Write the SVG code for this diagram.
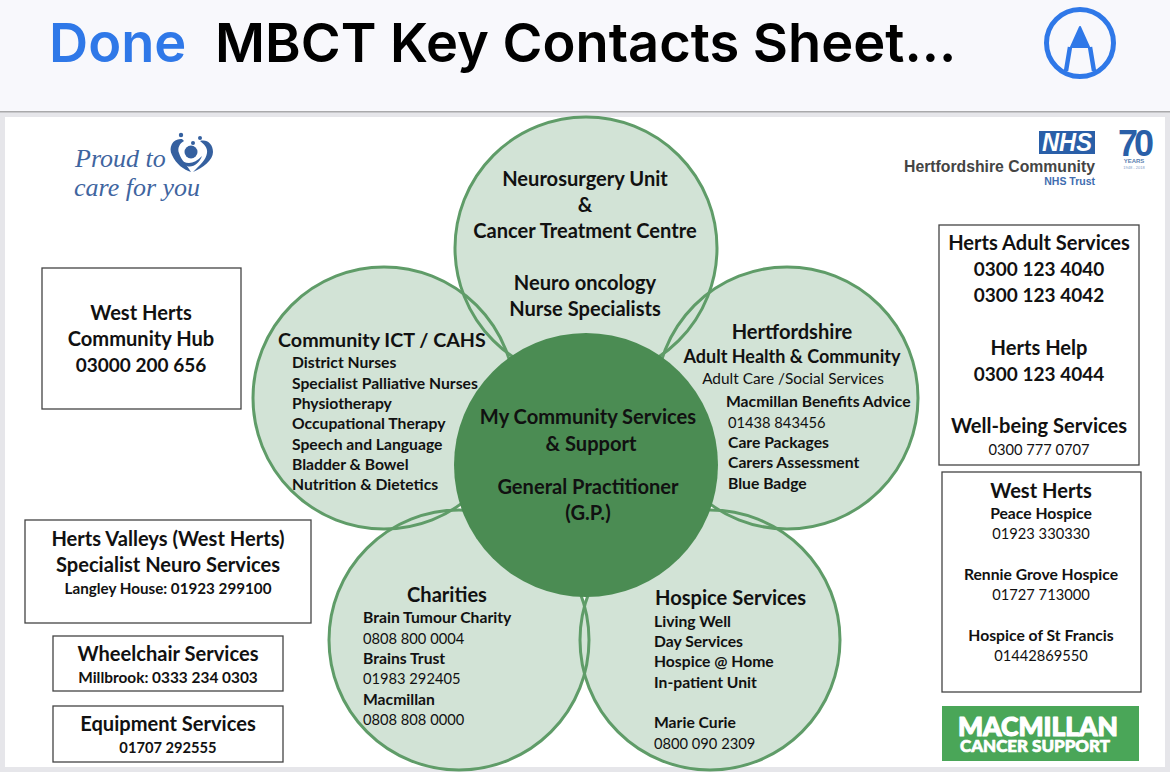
<svg xmlns="http://www.w3.org/2000/svg" width="1170" height="772" viewBox="0 0 1170 772">
<style>
text{font-family:"Lato","Open Sans","Liberation Sans",sans-serif;fill:#111}
.c{text-anchor:middle}
.h{font-size:20.1px;font-weight:700}
.hn{font-size:19px;font-weight:700}
.b{font-size:15.7px;font-weight:700}
.bn{font-size:14.7px;font-weight:700}
.n{font-size:14.7px;font-weight:400}
.box{fill:#fff;stroke:#444;stroke-width:1.3}
.pet{fill:#d2e3d6}
.ring{fill:none;stroke:#5f9c68;stroke-width:3}
.ui{font-family:"Inter","Liberation Sans",sans-serif;font-size:54.2px;font-weight:600}
.logo{font-family:"Liberation Serif",serif;font-style:italic;font-size:26px;fill:#3f659f}
.sans{font-family:"Liberation Sans",sans-serif;font-weight:700}
.heart{fill:#35609f}
</style>
<rect width="1170" height="772" fill="#e6e6ea"/>
<rect width="1170" height="111" fill="#f8f8fc"/>
<rect y="111" width="1170" height="1.5" fill="#a9a9ab"/>
<rect x="5" y="117" width="1160" height="650" fill="#fff"/>
<g id="toolbar">
<text class="ui" x="49" y="62" style="fill:#2f78e8">Done</text>
<text class="ui" x="215" y="62" style="fill:#000">MBCT Key Contacts Sheet...</text>
<circle cx="1080" cy="43" r="33.5" fill="none" stroke="#2f78e8" stroke-width="5"/>
<path d="M1080 27L1089 47L1071 47Z" fill="#2f78e8" stroke="#2f78e8" stroke-width="2" stroke-linejoin="round"/>
<path d="M1070 47L1066 71M1090 47L1094 71" fill="none" stroke="#2f78e8" stroke-width="4.5"/>
</g>
<g id="logo-proud">
<text class="logo" x="75" y="167">Proud to</text>
<text class="logo" x="74" y="196">care for you</text>
<path class="heart" d="M182 139C173 138 168 147 172 155C176 164 184 170 191 172C187 165 181 160 179 153C177 148 180 143 184 141Z"/>
<path class="heart" d="M200 141C207 139 213 144 213 152C213 160 203 168 193 172C200 165 206 160 207 153C208 148 204 144 200 141Z"/>
<path class="heart" d="M179 158C185 165 194 165 202 156C198 167 186 172 179 158Z"/>
<circle class="heart" cx="191" cy="152" r="6.5"/>
<circle class="heart" cx="181" cy="135" r="2.2"/>
<circle class="heart" cx="200" cy="138" r="2"/>
<circle class="heart" cx="193" cy="143" r="2"/>
</g>
<g id="logo-nhs">
<rect x="1039" y="131" width="56" height="23" fill="#2a5fa8"/>
<text x="1067" y="151" class="c sans" style="fill:#fff;font-size:25px;font-style:italic" textLength="50" lengthAdjust="spacingAndGlyphs">NHS</text>
<text x="1095" y="172" text-anchor="end" class="sans" textLength="191" lengthAdjust="spacingAndGlyphs" style="fill:#444;font-size:16.5px">Hertfordshire Community</text>
<text x="1095" y="185" text-anchor="end" class="sans" style="fill:#3f6db0;font-size:10.5px">NHS Trust</text>
<text x="1134" y="156" class="c sans" style="fill:#2a5fa8;font-size:36px;letter-spacing:-4px">70</text>
<text x="1134" y="163" class="c sans" style="fill:#5c7fb0;font-size:6px">YEARS</text>
<text x="1134" y="169" class="c sans" style="fill:#7d9cc6;font-size:4px;font-weight:400">1948 - 2018</text>
</g>
<g id="connectors"></g>
<g id="flower">
<circle class="pet" cx="586" cy="248" r="131"/>
<circle class="pet" cx="384" cy="398" r="131"/>
<circle class="pet" cx="787" cy="398" r="131"/>
<circle class="pet" cx="459" cy="640" r="130"/>
<circle class="pet" cx="710" cy="640" r="130"/>
<circle class="ring" cx="586" cy="248" r="131"/>
<circle class="ring" cx="384" cy="398" r="131"/>
<circle class="ring" cx="787" cy="398" r="131"/>
<circle class="ring" cx="459" cy="640" r="130"/>
<circle class="ring" cx="710" cy="640" r="130"/>
<circle cx="586" cy="465" r="132" fill="#4b8c53"/>
</g>
<g id="node-neurosurgery">
<text class="h c" x="585" y="186">Neurosurgery Unit</text>
<text class="h c" x="585" y="212">&amp;</text>
<text class="h c" x="585" y="238">Cancer Treatment Centre</text>
<text class="h c" x="585" y="290">Neuro oncology</text>
<text class="h c" x="585" y="316">Nurse Specialists</text>
</g>
<g id="node-community">
<text class="h" style="font-size:19.7px" x="278" y="347">Community ICT / CAHS</text>
<text class="b" x="292" y="368">District Nurses</text>
<text class="b" x="292" y="389">Specialist Palliative Nurses</text>
<text class="b" x="292" y="409">Physiotherapy</text>
<text class="b" x="292" y="429">Occupational Therapy</text>
<text class="b" x="292" y="450">Speech and Language</text>
<text class="b" x="292" y="470">Bladder &amp; Bowel</text>
<text class="b" x="292" y="490">Nutrition &amp; Dietetics</text>
</g>
<g id="node-hertfordshire">
<text class="h c" x="792" y="339">Hertfordshire</text>
<text class="b c" style="font-size:18px" x="792" y="363">Adult Health &amp; Community</text>
<text class="n c" style="font-size:15.4px" x="793" y="384">Adult Care /Social Services</text>
<text class="b" x="726" y="407">Macmillan Benefits Advice</text>
<text class="n" x="728" y="428">01438 843456</text>
<text class="b" x="728" y="448">Care Packages</text>
<text class="b" x="728" y="468">Carers Assessment</text>
<text class="b" x="728" y="489">Blue Badge</text>
</g>
<g id="node-centre">
<text class="h c" x="588" y="424">My Community Services</text>
<text class="h c" x="591" y="451">&amp; Support</text>
<text class="h c" x="588" y="494">General Practitioner</text>
<text class="h c" x="588" y="520">(G.P.)</text>
</g>
<g id="node-charities">
<text class="h c" x="447" y="602">Charities</text>
<text class="b" x="363" y="623">Brain Tumour Charity</text>
<text class="n" x="363" y="644">0808 800 0004</text>
<text class="b" x="363" y="664">Brains Trust</text>
<text class="n" x="363" y="684">01983 292405</text>
<text class="b" x="363" y="705">Macmillan</text>
<text class="n" x="363" y="725">0808 808 0000</text>
</g>
<g id="node-hospice">
<text class="h" x="655" y="605">Hospice Services</text>
<text class="b" x="654" y="627">Living Well</text>
<text class="b" x="654" y="647">Day Services</text>
<text class="b" x="654" y="667">Hospice @ Home</text>
<text class="b" x="654" y="688">In-patient Unit</text>
<text class="b" x="654" y="728">Marie Curie</text>
<text class="n" x="654" y="749">0800 090 2309</text>
</g>
<g id="node-west-herts-hub">
<rect class="box" x="42" y="268" width="199" height="141"/>
<text class="h c" x="141" y="320">West Herts</text>
<text class="h c" x="141" y="346">Community Hub</text>
<text class="hn c" x="141" y="372">03000 200 656</text>
</g>
<g id="node-herts-valleys">
<rect class="box" x="25" y="520" width="286" height="103"/>
<text class="h c" x="168" y="546">Herts Valleys (West Herts)</text>
<text class="h c" x="168" y="572">Specialist Neuro Services</text>
<text class="b c" style="font-size:15.2px" x="168" y="594">Langley House: 01923 299100</text>
</g>
<g id="node-wheelchair">
<rect class="box" x="53" y="636" width="230" height="55"/>
<text class="h c" x="168" y="661">Wheelchair Services</text>
<text class="b c" style="font-size:15.4px" x="168" y="683">Millbrook: 0333 234 0303</text>
</g>
<g id="node-equipment">
<rect class="box" x="53" y="706" width="230" height="56"/>
<text class="h c" x="168" y="731">Equipment Services</text>
<text class="bn c" x="168" y="753">01707 292555</text>
</g>
<g id="node-herts-adult">
<rect class="box" x="939" y="225" width="200" height="240"/>
<text class="h c" x="1039" y="250">Herts Adult Services</text>
<text class="hn c" x="1039" y="276">0300 123 4040</text>
<text class="hn c" x="1039" y="302">0300 123 4042</text>
<text class="h c" x="1039" y="355">Herts Help</text>
<text class="hn c" x="1039" y="381">0300 123 4044</text>
<text class="h c" x="1039" y="433">Well-being Services</text>
<text class="n c" x="1039" y="455">0300 777 0707</text>
</g>
<g id="node-west-herts">
<rect class="box" x="942" y="472" width="199" height="220"/>
<text class="h c" x="1041" y="498">West Herts</text>
<text class="b c" x="1041" y="519">Peace Hospice</text>
<text class="n c" x="1041" y="539">01923 330330</text>
<text class="b c" x="1041" y="580">Rennie Grove Hospice</text>
<text class="n c" x="1041" y="600">01727 713000</text>
<text class="b c" x="1041" y="641">Hospice of St Francis</text>
<text class="n c" x="1041" y="661">01442869550</text>
</g>
<g id="logo-macmillan">
<rect x="942" y="706" width="197" height="55" fill="#4aa658"/>
<text class="c" x="1038" y="736" textLength="160" lengthAdjust="spacingAndGlyphs" style="fill:#fff;stroke:#fff;stroke-width:1.2;stroke-linejoin:round;font-size:27px;font-weight:900">MACMILLAN</text>
<text class="c" x="1035" y="752" textLength="150" lengthAdjust="spacingAndGlyphs" style="fill:#fff;stroke:#fff;stroke-width:.7;stroke-linejoin:round;font-size:17px;font-weight:900">CANCER SUPPORT</text>
</g>
</svg>
